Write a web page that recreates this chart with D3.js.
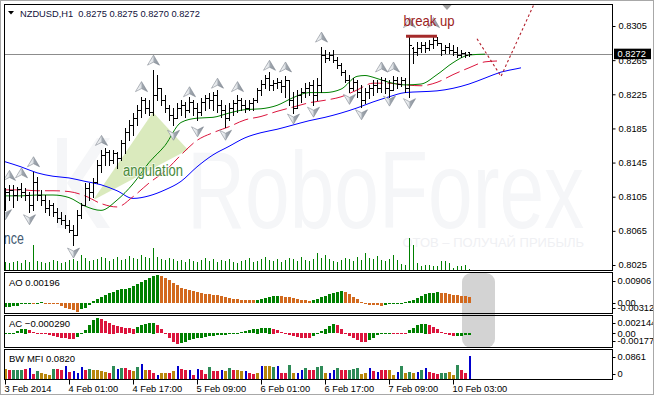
<!DOCTYPE html>
<html><head><meta charset="utf-8">
<script src="https://cdnjs.cloudflare.com/ajax/libs/d3/7.8.5/d3.min.js"></script>
<style>
html,body{margin:0;padding:0;background:#fff;}
svg{display:block;}
text{font-family:"Liberation Sans",Arial,sans-serif;}
</style></head>
<body>
<svg id="chart" width="654" height="395"></svg>
<script>
// ---------------- DATA ----------------
const symbol = "NZDUSD,H1";
// [open, high, low, close] per H1 bar
const ohlc = [
[0.8101,0.8115,0.8089,0.8111],[0.8111,0.8119,0.8101,0.8113],[0.8113,0.8119,0.8093,0.8107],[0.8107,0.8116,0.8101,0.8114],
[0.8114,0.8121,0.8105,0.8111],[0.8111,0.8115,0.8101,0.8107],[0.8107,0.8111,0.8087,0.8095],[0.8095,0.8134,0.8089,0.8122],
[0.8122,0.8128,0.8101,0.8107],[0.8107,0.8113,0.8095,0.8101],[0.8101,0.8107,0.8087,0.8092],[0.8092,0.8101,0.8084,0.8095],
[0.8095,0.8098,0.8082,0.8087],[0.8087,0.8092,0.8075,0.8080],[0.8080,0.8087,0.8073,0.8078],[0.8078,0.8084,0.8068,0.8072],
[0.8072,0.8078,0.8064,0.8066],[0.8066,0.8072,0.8048,0.8060],[0.8060,0.8089,0.8060,0.8084],[0.8084,0.8098,0.8080,0.8095],
[0.8095,0.8121,0.8095,0.8115],[0.8115,0.8121,0.8101,0.8111],[0.8111,0.8127,0.8105,0.8122],[0.8122,0.8148,0.8121,0.8142],
[0.8142,0.8160,0.8134,0.8154],[0.8154,0.8162,0.8142,0.8157],[0.8157,0.8160,0.8142,0.8148],[0.8148,0.8160,0.8145,0.8156],
[0.8156,0.8157,0.8139,0.8150],[0.8150,0.8171,0.8148,0.8168],[0.8168,0.8186,0.8156,0.8181],[0.8181,0.8195,0.8171,0.8189],
[0.8189,0.8203,0.8177,0.8197],[0.8197,0.8212,0.8189,0.8207],[0.8207,0.8222,0.8198,0.8218],[0.8218,0.8221,0.8203,0.8209],
[0.8209,0.8218,0.8201,0.8204],[0.8204,0.8253,0.8201,0.8224],[0.8224,0.8248,0.8218,0.8232],[0.8232,0.8232,0.8212,0.8218],
[0.8218,0.8224,0.8204,0.8209],[0.8209,0.8212,0.8195,0.8201],[0.8201,0.8209,0.8189,0.8197],[0.8197,0.8215,0.8197,0.8209],
[0.8209,0.8218,0.8201,0.8212],[0.8212,0.8216,0.8198,0.8207],[0.8207,0.8222,0.8204,0.8216],[0.8216,0.8218,0.8201,0.8209],
[0.8209,0.8215,0.8195,0.8204],[0.8204,0.8221,0.8201,0.8216],[0.8216,0.8224,0.8207,0.8221],[0.8221,0.8227,0.8209,0.8218],
[0.8218,0.8228,0.8207,0.8224],[0.8224,0.8230,0.8204,0.8212],[0.8212,0.8218,0.8198,0.8207],[0.8207,0.8212,0.8187,0.8197],
[0.8197,0.8215,0.8195,0.8209],[0.8209,0.8218,0.8201,0.8215],[0.8215,0.8224,0.8204,0.8218],[0.8218,0.8221,0.8207,0.8212],
[0.8212,0.8218,0.8204,0.8209],[0.8209,0.8218,0.8207,0.8215],[0.8215,0.8221,0.8207,0.8218],[0.8218,0.8232,0.8216,0.8230],
[0.8230,0.8242,0.8224,0.8237],[0.8237,0.8248,0.8232,0.8244],[0.8244,0.8251,0.8230,0.8236],[0.8236,0.8242,0.8230,0.8238],
[0.8238,0.8244,0.8232,0.8239],[0.8239,0.8242,0.8228,0.8235],[0.8235,0.8246,0.8222,0.8242],[0.8242,0.8242,0.8212,0.8218],
[0.8218,0.8228,0.8203,0.8209],[0.8209,0.8230,0.8209,0.8224],[0.8224,0.8232,0.8216,0.8228],[0.8228,0.8238,0.8222,0.8232],
[0.8232,0.8239,0.8224,0.8236],[0.8236,0.8242,0.8212,0.8224],[0.8224,0.8244,0.8218,0.8236],[0.8236,0.8280,0.8228,0.8271],
[0.8271,0.8277,0.8263,0.8268],[0.8268,0.8275,0.8265,0.8271],[0.8271,0.8277,0.8263,0.8265],[0.8265,0.8269,0.8256,0.8259],
[0.8259,0.8262,0.8248,0.8251],[0.8251,0.8253,0.8239,0.8242],[0.8242,0.8248,0.8228,0.8232],[0.8232,0.8244,0.8230,0.8239],
[0.8239,0.8242,0.8222,0.8228],[0.8228,0.8236,0.8210,0.8218],[0.8218,0.8232,0.8215,0.8228],[0.8228,0.8236,0.8221,0.8232],
[0.8232,0.8242,0.8224,0.8236],[0.8236,0.8242,0.8228,0.8232],[0.8232,0.8245,0.8228,0.8242],[0.8242,0.8244,0.8227,0.8232],
[0.8232,0.8242,0.8222,0.8230],[0.8230,0.8246,0.8230,0.8242],[0.8242,0.8245,0.8232,0.8237],[0.8237,0.8245,0.8235,0.8242],
[0.8242,0.8244,0.8228,0.8232],[0.8232,0.8294,0.8222,0.8283],[0.8279,0.8280,0.8262,0.8275],[0.8275,0.8286,0.8271,0.8279],
[0.8279,0.8286,0.8275,0.8283],[0.8283,0.8286,0.8275,0.8279],[0.8279,0.8289,0.8277,0.8284],[0.8284,0.8293,0.8279,0.8289],
[0.8289,0.8292,0.8283,0.8285],[0.8285,0.8285,0.8271,0.8277],[0.8277,0.8283,0.8273,0.8280],[0.8280,0.8285,0.8273,0.8277],
[0.8277,0.8283,0.8271,0.8275],[0.8275,0.8280,0.8269,0.8271],[0.8271,0.8277,0.8269,0.8273],[0.8273,0.8275,0.8269,0.8271],
[0.8275,0.8275,0.8270,0.8272]
];
const volumes = [450,400,450,500,400,550,450,1300,500,450,400,450,550,500,400,450,550,600,500,800,
650,500,550,600,700,650,500,600,700,550,600,750,650,600,800,700,650,1150,700,600,
550,650,600,500,550,450,600,500,450,550,650,500,600,450,550,500,600,450,400,500,
550,650,450,500,600,700,550,500,600,450,550,650,600,500,700,550,500,600,900,650,
800,600,500,450,550,650,600,500,700,550,900,650,600,750,550,500,600,800,550,350,
300,1650,1300,400,250,300,300,250,250,500,500,400,150,250,250,300,100];
// Alligator: [bar index, value]
const jaw = [[0,0.8146],[4,0.8140],[8,0.8133],[12,0.8129],[16,0.8127],[20,0.8123],[24,0.8119],[28,0.8112],[32,0.8103],[36,0.8106],[40,0.8113],[44,0.8123],[48,0.8140],[52,0.8154],[56,0.8164],[60,0.8174],[64,0.8180],[68,0.8184],[72,0.8189],[76,0.8194],[80,0.8198],[84,0.8203],[88,0.8209],[92,0.8216],[96,0.8222],[100,0.8227],[104,0.8228],[108,0.8229],[112,0.8232],[116,0.8237],[120,0.8244],[124,0.8251],[128,0.8255],[129,0.8256]];
const teeth = [[0,0.8113],[4,0.8113],[8,0.8112],[12,0.8112],[16,0.8111],[20,0.8106],[24,0.8097],[28,0.8093],[32,0.8105],[36,0.8121],[40,0.8135],[44,0.8154],[48,0.8171],[52,0.8180],[56,0.8187],[60,0.8195],[64,0.8199],[68,0.8205],[72,0.8210],[76,0.8215],[80,0.8218],[84,0.8222],[88,0.8230],[92,0.8238],[96,0.8238],[100,0.8236],[104,0.8235],[108,0.8239],[112,0.8248],[116,0.8256],[120,0.8263],[123,0.8264]];
const lips = [[0,0.8106],[4,0.8106],[8,0.8107],[12,0.8107],[16,0.8104],[20,0.8094],[24,0.8089],[28,0.8101],[32,0.8120],[36,0.8145],[40,0.8165],[44,0.8192],[48,0.8197],[52,0.8198],[56,0.8203],[60,0.8207],[64,0.8208],[68,0.8212],[72,0.8221],[76,0.8227],[80,0.8227],[84,0.8231],[88,0.8246],[90,0.8247],[92,0.8245],[96,0.8239],[100,0.8236],[104,0.8237],[108,0.8248],[112,0.8262],[116,0.8271],[120,0.8272]];
// Fractals: [bar index, arrow price]
const fractalsUp = [[1,0.8130],[4,0.8133],[7,0.8146],[24,0.8171],[34,0.8234],[37,0.8265],[46,0.8228],[53,0.8238],[58,0.8234],[66,0.8259],[70,0.8257],[79,0.8292],[94,0.8257],[97,0.8257],[101,0.8309],[107,0.8309]];
const fractalsDown = [[0,0.8084],[6,0.8078],[17,0.8039],[42,0.8177],[48,0.8181],[55,0.8177],[72,0.8196],[77,0.8204],[86,0.8219],[89,0.8201],[96,0.8217],[101,0.8214]];
const ao = [-0.00125,-0.00114,-0.00104,-0.00094,-0.00031,-0.00021,-0.00010,-0.00021,0.00010,0.00021,
-0.00010,-0.00021,-0.00021,-0.00031,-0.00094,-0.00146,-0.00177,-0.00218,-0.00270,-0.00198,
-0.00146,-0.00062,0.00062,0.00135,0.00198,0.00239,0.00302,0.00354,0.00395,0.00426,
0.00447,0.00478,0.00530,0.00593,0.00666,0.00728,0.00790,0.00842,0.00874,0.00842,
0.00790,0.00718,0.00634,0.00551,0.00478,0.00447,0.00406,0.00374,0.00354,0.00322,
0.00291,0.00270,0.00250,0.00239,0.00218,0.00198,0.00166,0.00135,0.00114,0.00094,
0.00093,0.00083,0.00082,0.00104,0.00125,0.00156,0.00187,0.00208,0.00218,0.00208,
0.00198,0.00177,0.00146,0.00114,0.00094,0.00083,0.00073,0.00104,0.00135,0.00177,
0.00218,0.00270,0.00322,0.00354,0.00374,0.00354,0.00281,0.00198,0.00114,0.00031,
-0.00021,-0.00052,-0.00062,-0.00073,-0.00083,-0.00062,-0.00042,-0.00021,0.00000,0.00010,
0.00031,0.00052,0.00104,0.00166,0.00218,0.00270,0.00302,0.00322,0.00333,0.00322,
0.00302,0.00281,0.00260,0.00239,0.00218,0.00208,0.00196];
const ac = [-0.00013,-0.00009,-0.00004,0.00026,0.00052,0.00061,0.00039,0.00017,0.00004,-0.00004,
-0.00009,-0.00022,-0.00035,-0.00048,-0.00061,-0.00069,-0.00074,-0.00078,-0.00048,-0.00009,
0.00039,0.00104,0.00169,0.00199,0.00182,0.00156,0.00139,0.00113,0.00095,0.00082,
0.00074,0.00069,0.00061,0.00082,0.00104,0.00121,0.00134,0.00139,0.00104,0.00052,
-0.00017,-0.00069,-0.00113,-0.00147,-0.00134,-0.00113,-0.00095,-0.00082,-0.00069,-0.00061,
-0.00052,-0.00043,-0.00035,-0.00030,-0.00026,-0.00022,-0.00017,-0.00013,0.00000,0.00013,
0.00026,0.00039,0.00052,0.00061,0.00065,0.00069,0.00074,0.00061,0.00039,0.00017,
-0.00009,-0.00026,-0.00039,-0.00052,-0.00061,-0.00065,-0.00069,-0.00035,-0.00004,0.00026,
0.00061,0.00095,0.00121,0.00104,0.00061,0.00009,-0.00035,-0.00069,-0.00095,-0.00113,
-0.00121,-0.00091,-0.00061,-0.00026,-0.00004,0.00004,0.00009,0.00004,0.00000,-0.00004,
-0.00009,0.00039,0.00069,0.00104,0.00121,0.00126,0.00113,0.00082,0.00052,0.00017,
-0.00009,-0.00030,-0.00043,-0.00039,-0.00035,-0.00032,-0.00029];
const mfi = [0.0344,0.0310,0.0310,0.0310,0.0310,0.0344,0.0378,0.0172,0.0275,0.0206,
0.0172,0.0138,0.0344,0.0344,0.0310,0.0447,0.0241,0.0275,0.0206,0.0413,
0.0310,0.0344,0.0310,0.0310,0.0275,0.0241,0.0206,0.0447,0.0344,0.0378,
0.0378,0.0310,0.0275,0.0413,0.0516,0.0310,0.0310,0.0206,0.0138,0.0206,
0.0206,0.0206,0.0275,0.0447,0.0344,0.0310,0.0310,0.0138,0.0344,0.0310,
0.0172,0.0413,0.0275,0.0275,0.0310,0.0275,0.0378,0.0310,0.0310,0.0275,
0.0275,0.0206,0.0172,0.0206,0.0447,0.0447,0.0447,0.0413,0.0447,0.0206,
0.0206,0.0482,0.0206,0.0206,0.0310,0.0378,0.0310,0.0310,0.0413,0.0447,
0.0206,0.0206,0.0310,0.0378,0.0310,0.0310,0.0310,0.0344,0.0378,0.0172,
0.0206,0.0378,0.0275,0.0241,0.0310,0.0310,0.0310,0.0138,0.0241,0.0447,
0.0206,0.0241,0.0206,0.0241,0.0310,0.0378,0.0241,0.0206,0.0172,0.0206,
0.0206,0.0241,0.0138,0.0482,0.0310,0.0206,0.0820];
// BW MFI bar type: G=green, F=fade, K=fake, S=squat
const mfiType = ["F","S","G","G","G","S","K","S","G","F",
"F","F","G","S","S","K","S","K","K","K",
"S","G","F","F","F","F","S","G","K","G",
"S","S","F","G","K","F","S","S","K","F",
"F","S","F","K","S","S","K","S","K","S",
"S","G","S","S","K","F","G","S","F","F",
"K","S","S","F","K","F","F","G","K","S",
"S","G","F","K","K","G","S","S","G","G",
"F","K","K","G","S","S","G","G","G","F",
"F","K","S","K","S","S","F","F","K","G",
"F","G","F","K","G","K","S","S","S","G",
"G","F","F","G","S","S","K"];
const priceTicks = [0.8305,0.8265,0.8225,0.8185,0.8145,0.8105,0.8065,0.8025];
const aoTicks = [0.00906,0,-0.00312];
const aoTickLabels = ["0.00906","0.00","-0.00312"];
const acTicks = [0.002144,0,-0.00177];
const acTickLabels = ["0.002144","0.00","-0.00177"];
const mfiTicks = [0.0861,0];
const mfiTickLabels = ["0.0861","0"];
const dateTickIdx = [0,16,32,48,64,80,96,112];
const dateTickLabels = ["3 Feb 2014","4 Feb 01:00","4 Feb 17:00","5 Feb 09:00","6 Feb 01:00","6 Feb 17:00","7 Feb 09:00","10 Feb 03:00"];
// annotations (bar index, price)
const angulationTri = [[22,0.8101],[37,0.8204],[45.75,0.8160]];
const angulationLabel = [37,0.8129];
const breakLine = [[100.25,0.8293],[108,0.8293]];
const breakLabel = [106,0.8305];
const forecast = [[118,0.8290],[124,0.8246],[132.2,0.8330]];
const nceLabel = [-0.3,0.8050];
const shiftIdx = 110.5;

// ---------------- CHART ----------------
const svg = d3.select('#chart');
const X0 = 4.5, X1 = 612.5;
const P = {main:[4.5,270.5], ao:[272.5,313.5], ac:[315.5,347.5], mfi:[349.5,379.5]};

const x = d3.scaleLinear().domain([0,116]).range([5,469]);
const xp = i => Math.round(x(i)) + 0.5;
const y = d3.scaleLinear().domain([0.8305,0.8025]).range([26,265]);
const yVol = d3.scaleLinear().domain([0,1650]).range([270.5,237.5]);
const yAO = d3.scaleLinear().domain([-0.00312,0.00906]).range([313,274]);
const yAC = d3.scaleLinear().domain([-0.00177,0.002144]).range([347,317]);
const yMFI = d3.scaleLinear().domain([0,0.0861]).range([379,354.5]);
const ry = v => Math.round(v) + 0.5;

const defs = svg.append('defs');
const gr = defs.append('linearGradient').attr('id','frac');
[['0%','#ffffff'],['48%','#dde1e5'],['52%','#a3aab2'],['100%','#89919a']]
  .forEach(([o,c]) => gr.append('stop').attr('offset',o).attr('stop-color',c));
Object.entries(P).forEach(([k,[t,b]]) => defs.append('clipPath').attr('id','clip-'+k)
  .append('rect').attr('x',X0+0.5).attr('y',t+0.5).attr('width',X1-X0-1).attr('height',b-t-1));

svg.append('rect').attr('width',654).attr('height',395).attr('fill','#fff');
// gray scroll-shade behind AO/AC
svg.append('rect').attr('x',x(114.25)).attr('y',273).attr('width',x(122.5)-x(114.25)).attr('height',75)
  .attr('rx',9).attr('fill','#d3d3d3');

// ---- main panel ----
const gm = svg.append('g').attr('clip-path','url(#clip-main)');
// watermark
const wm = gm.append('g').attr('fill','#f5f6f8');
wm.append('path').attr('d','M57,138H67V228H57Z M67,183L97,138H110L80,183L110,228H97Z');
wm.append('text').attr('transform','translate(187,228) scale(0.73,1)').attr('font-size',110).text('RoboForex');
wm.append('text').attr('x',584).attr('y',247).attr('font-size',13).attr('text-anchor','end')
  .attr('fill','#eff0f3').text('ОТОВ – ПОЛУЧАЙ ПРИБЫЛЬ');

// angulation triangle
gm.append('polygon').attr('points', angulationTri.map(d => [x(d[0]), y(d[1])].join(',')).join(' '))
  .attr('fill','#d6e8b6').attr('opacity',0.9);

// volumes
gm.append('g').selectAll('line').data(volumes).join('line')
  .attr('x1',(d,i)=>xp(i)).attr('x2',(d,i)=>xp(i))
  .attr('y1',yVol(0)).attr('y2',d=>Math.round(yVol(d)))
  .attr('stroke','#008000').attr('stroke-width',1);

// current price line
const last = ohlc[ohlc.length-1];
gm.append('line').attr('x1',X0).attr('x2',X1).attr('y1',ry(y(last[3]))).attr('y2',ry(y(last[3])))
  .attr('stroke','#8c8c8c').attr('stroke-width',1);

// alligator
const ln = d3.line().x(d=>x(d[0])).y(d=>y(d[1])).curve(d3.curveMonotoneX);
gm.append('path').attr('d',ln(jaw)).attr('fill','none').attr('stroke','#0000ff').attr('stroke-width',1);
gm.append('path').attr('d',ln(teeth)).attr('fill','none').attr('stroke','#dc143c').attr('stroke-width',1)
  .attr('stroke-dasharray','15,5');
gm.append('path').attr('d',ln(lips)).attr('fill','none').attr('stroke','#008000').attr('stroke-width',1);

// forecast dotted path
gm.append('path').attr('d',d3.line().x(d=>x(d[0])).y(d=>y(d[1]))(forecast))
  .attr('fill','none').attr('stroke','#b3202c').attr('stroke-width',1.1).attr('stroke-dasharray','2.5,2.5');

// OHLC bars
gm.append('g').selectAll('path').data(ohlc).join('path')
  .attr('d',(d,i)=>{const cx=xp(i);
    return `M${cx},${Math.round(y(d[1]))}V${Math.round(y(d[2]))+1}`+
           `M${cx-2},${ry(y(d[0]))}H${cx}M${cx},${ry(y(d[3]))}H${cx+2.5}`;})
  .attr('fill','none').attr('stroke','#000').attr('stroke-width',1).attr('shape-rendering','crispEdges');

// fractals
const fg = gm.append('g').attr('fill','url(#frac)').attr('stroke','#7f8790').attr('stroke-width',0.6);
fg.selectAll('path.up').data(fractalsUp).join('path').attr('class','up')
  .attr('transform',d=>`translate(${x(d[0])+0.5},${y(d[1])})`).attr('d','M0,-5L6,5L0,2L-6,5Z');
fg.selectAll('path.dn').data(fractalsDown).join('path').attr('class','dn')
  .attr('transform',d=>`translate(${x(d[0])+0.5},${y(d[1])})`).attr('d','M0,5L6,-5L0,-2L-6,-5Z');

// break-up annotation
gm.append('line').attr('x1',x(breakLine[0][0])).attr('x2',x(breakLine[1][0]))
  .attr('y1',y(breakLine[0][1])).attr('y2',y(breakLine[1][1]))
  .attr('stroke','#a52a2a').attr('stroke-width',3);
gm.append('text').attr('x',x(breakLabel[0])).attr('y',y(breakLabel[1])).attr('text-anchor','middle')
  .attr('font-size',15).attr('textLength',51).attr('lengthAdjust','spacingAndGlyphs')
  .attr('fill','#9b1c1c').text('break up');
gm.append('text').attr('x',x(angulationLabel[0])).attr('y',y(angulationLabel[1])).attr('text-anchor','middle')
  .attr('font-size',16).attr('textLength',60).attr('lengthAdjust','spacingAndGlyphs')
  .attr('fill','#4a8a3a').attr('stroke','#ffffff').attr('stroke-width',2).attr('stroke-opacity',0.55)
  .attr('paint-order','stroke').text('angulation');
gm.append('text').attr('x',x(nceLabel[0])).attr('y',y(nceLabel[1])).attr('font-size',17)
  .attr('textLength',20).attr('lengthAdjust','spacingAndGlyphs').attr('fill','#435a72').text('nce');

// chart shift marker
gm.append('path').attr('transform',`translate(${x(shiftIdx)},4.5)`).attr('d','M-5,0H5L0,5.5Z').attr('fill','#a0a0a0');

// header
const hdr = svg.append('g');
hdr.append('path').attr('d','M8,11H14L11,14.5Z').attr('fill','#000');
const f4 = d3.format('.4f');
hdr.append('text').attr('x',20).attr('y',16.5).attr('font-size',9.3).attr('fill','#10103a')
  .style('white-space','pre').text(`${symbol}  ${last.map(f4).join(' ')}`);

// ---- AO ----
const colAO = (v,i,arr) => (i===0 || v>arr[i-1]) ? '#008000' : '#d2691e';
const gao = svg.append('g').attr('clip-path','url(#clip-ao)');
gao.selectAll('rect').data(ao).join('rect')
  .attr('x',(d,i)=>Math.round(x(i))-1).attr('width',3)
  .attr('y',d=>Math.round(Math.min(yAO(d),yAO(0))))
  .attr('height',d=>Math.max(1,Math.round(Math.abs(yAO(d)-yAO(0)))))
  .attr('fill',(d,i)=>colAO(d,i,ao)).attr('shape-rendering','crispEdges');

// ---- AC ----
const colAC = (v,i,arr) => (i===0 || v>arr[i-1]) ? '#008000' : '#dc143c';
const gac = svg.append('g').attr('clip-path','url(#clip-ac)');
gac.selectAll('rect').data(ac).join('rect')
  .attr('x',(d,i)=>Math.round(x(i))-1).attr('width',3)
  .attr('y',d=>Math.round(Math.min(yAC(d),yAC(0))))
  .attr('height',d=>Math.max(1,Math.round(Math.abs(yAC(d)-yAC(0)))))
  .attr('fill',(d,i)=>colAC(d,i,ac)).attr('shape-rendering','crispEdges');

// ---- BW MFI ----
const mfiColor = {G:'#2e8b57',F:'#b8860b',K:'#0000cd',S:'#dc143c'};
const gmf = svg.append('g').attr('clip-path','url(#clip-mfi)');
gmf.selectAll('rect').data(mfi).join('rect')
  .attr('x',(d,i)=>Math.round(x(i))-(mfiType[i]==='K'?0:1)).attr('width',(d,i)=>mfiType[i]==='K'?1.5:3)
  .attr('y',d=>Math.round(yMFI(d))).attr('height',d=>379.5-Math.round(yMFI(d)))
  .attr('fill',(d,i)=>mfiColor[mfiType[i]]).attr('shape-rendering','crispEdges');

// ---- panel borders ----
Object.values(P).forEach(([t,b]) => svg.append('rect').attr('x',X0).attr('y',t).attr('width',X1-X0).attr('height',b-t)
  .attr('fill','none').attr('stroke','#000').attr('stroke-width',1).attr('shape-rendering','crispEdges'));

// panel titles
const tt = [['AO '+d3.format('.5f')(ao[ao.length-1]),283],
            ['AC '+d3.format('.6f')(ac[ac.length-1]),324],
            ['BW MFI '+d3.format('.4f')(mfi[mfi.length-1]),359]];
tt.forEach(([s,yy]) => svg.append('text').attr('x',9).attr('y',yy).attr('dy','0.35em')
  .attr('font-size',9.5).attr('fill','#000').text(s));

// ---- right price axis ----
const axR = svg.append('g').attr('transform',`translate(${X1},0)`)
  .call(d3.axisRight(y).tickValues(priceTicks).tickFormat(f4).tickSize(3).tickPadding(3));
axR.select('.domain').remove();
axR.selectAll('text').attr('font-size',9.3).attr('font-family','"Liberation Sans",Arial,sans-serif').attr('fill','#000');
axR.selectAll('line').attr('stroke','#000');

// current price tag
const py = y(last[3]);
svg.append('rect').attr('x',614).attr('y',py-5.5).attr('width',37).attr('height',10.5).attr('fill','#000');
svg.append('text').attr('x',617.5).attr('y',py).attr('dy','0.35em').attr('font-size',9.3).attr('fill','#fff').text(f4(last[3]));

// sub-panel scale labels
function subAxis(scale, vals, labels, offs){
  vals.forEach((v,k) => {
    const yy = scale(v) + offs[k];
    svg.append('line').attr('x1',X1).attr('x2',X1+3).attr('y1',ry(yy)).attr('y2',ry(yy)).attr('stroke','#000');
    svg.append('text').attr('x',X1+5).attr('y',yy).attr('dy','0.35em').attr('font-size',9.3).attr('fill','#000').text(labels[k]);
  });
}
subAxis(yAO, aoTicks, aoTickLabels, [7,0,-5]);
subAxis(yAC, acTicks, acTickLabels, [6,0,-6]);
subAxis(yMFI, mfiTicks, mfiTickLabels, [2.5,-5.5]);

// ---- date axis ----
const axB = svg.append('g').attr('transform','translate(0,379.5)')
  .call(d3.axisBottom(x).tickValues(dateTickIdx).tickFormat((d,k)=>dateTickLabels[k]).tickSize(5).tickPadding(1));
axB.select('.domain').remove();
axB.selectAll('text').attr('text-anchor','start').attr('x',-1).attr('font-size',9.3)
  .attr('font-family','"Liberation Sans",Arial,sans-serif').attr('fill','#000');
axB.selectAll('line').attr('stroke','#000');

// outer frame
svg.append('rect').attr('x',0.5).attr('y',0.5).attr('width',653).attr('height',394)
  .attr('fill','none').attr('stroke','#a8a8a8');
</script>
</body></html>
